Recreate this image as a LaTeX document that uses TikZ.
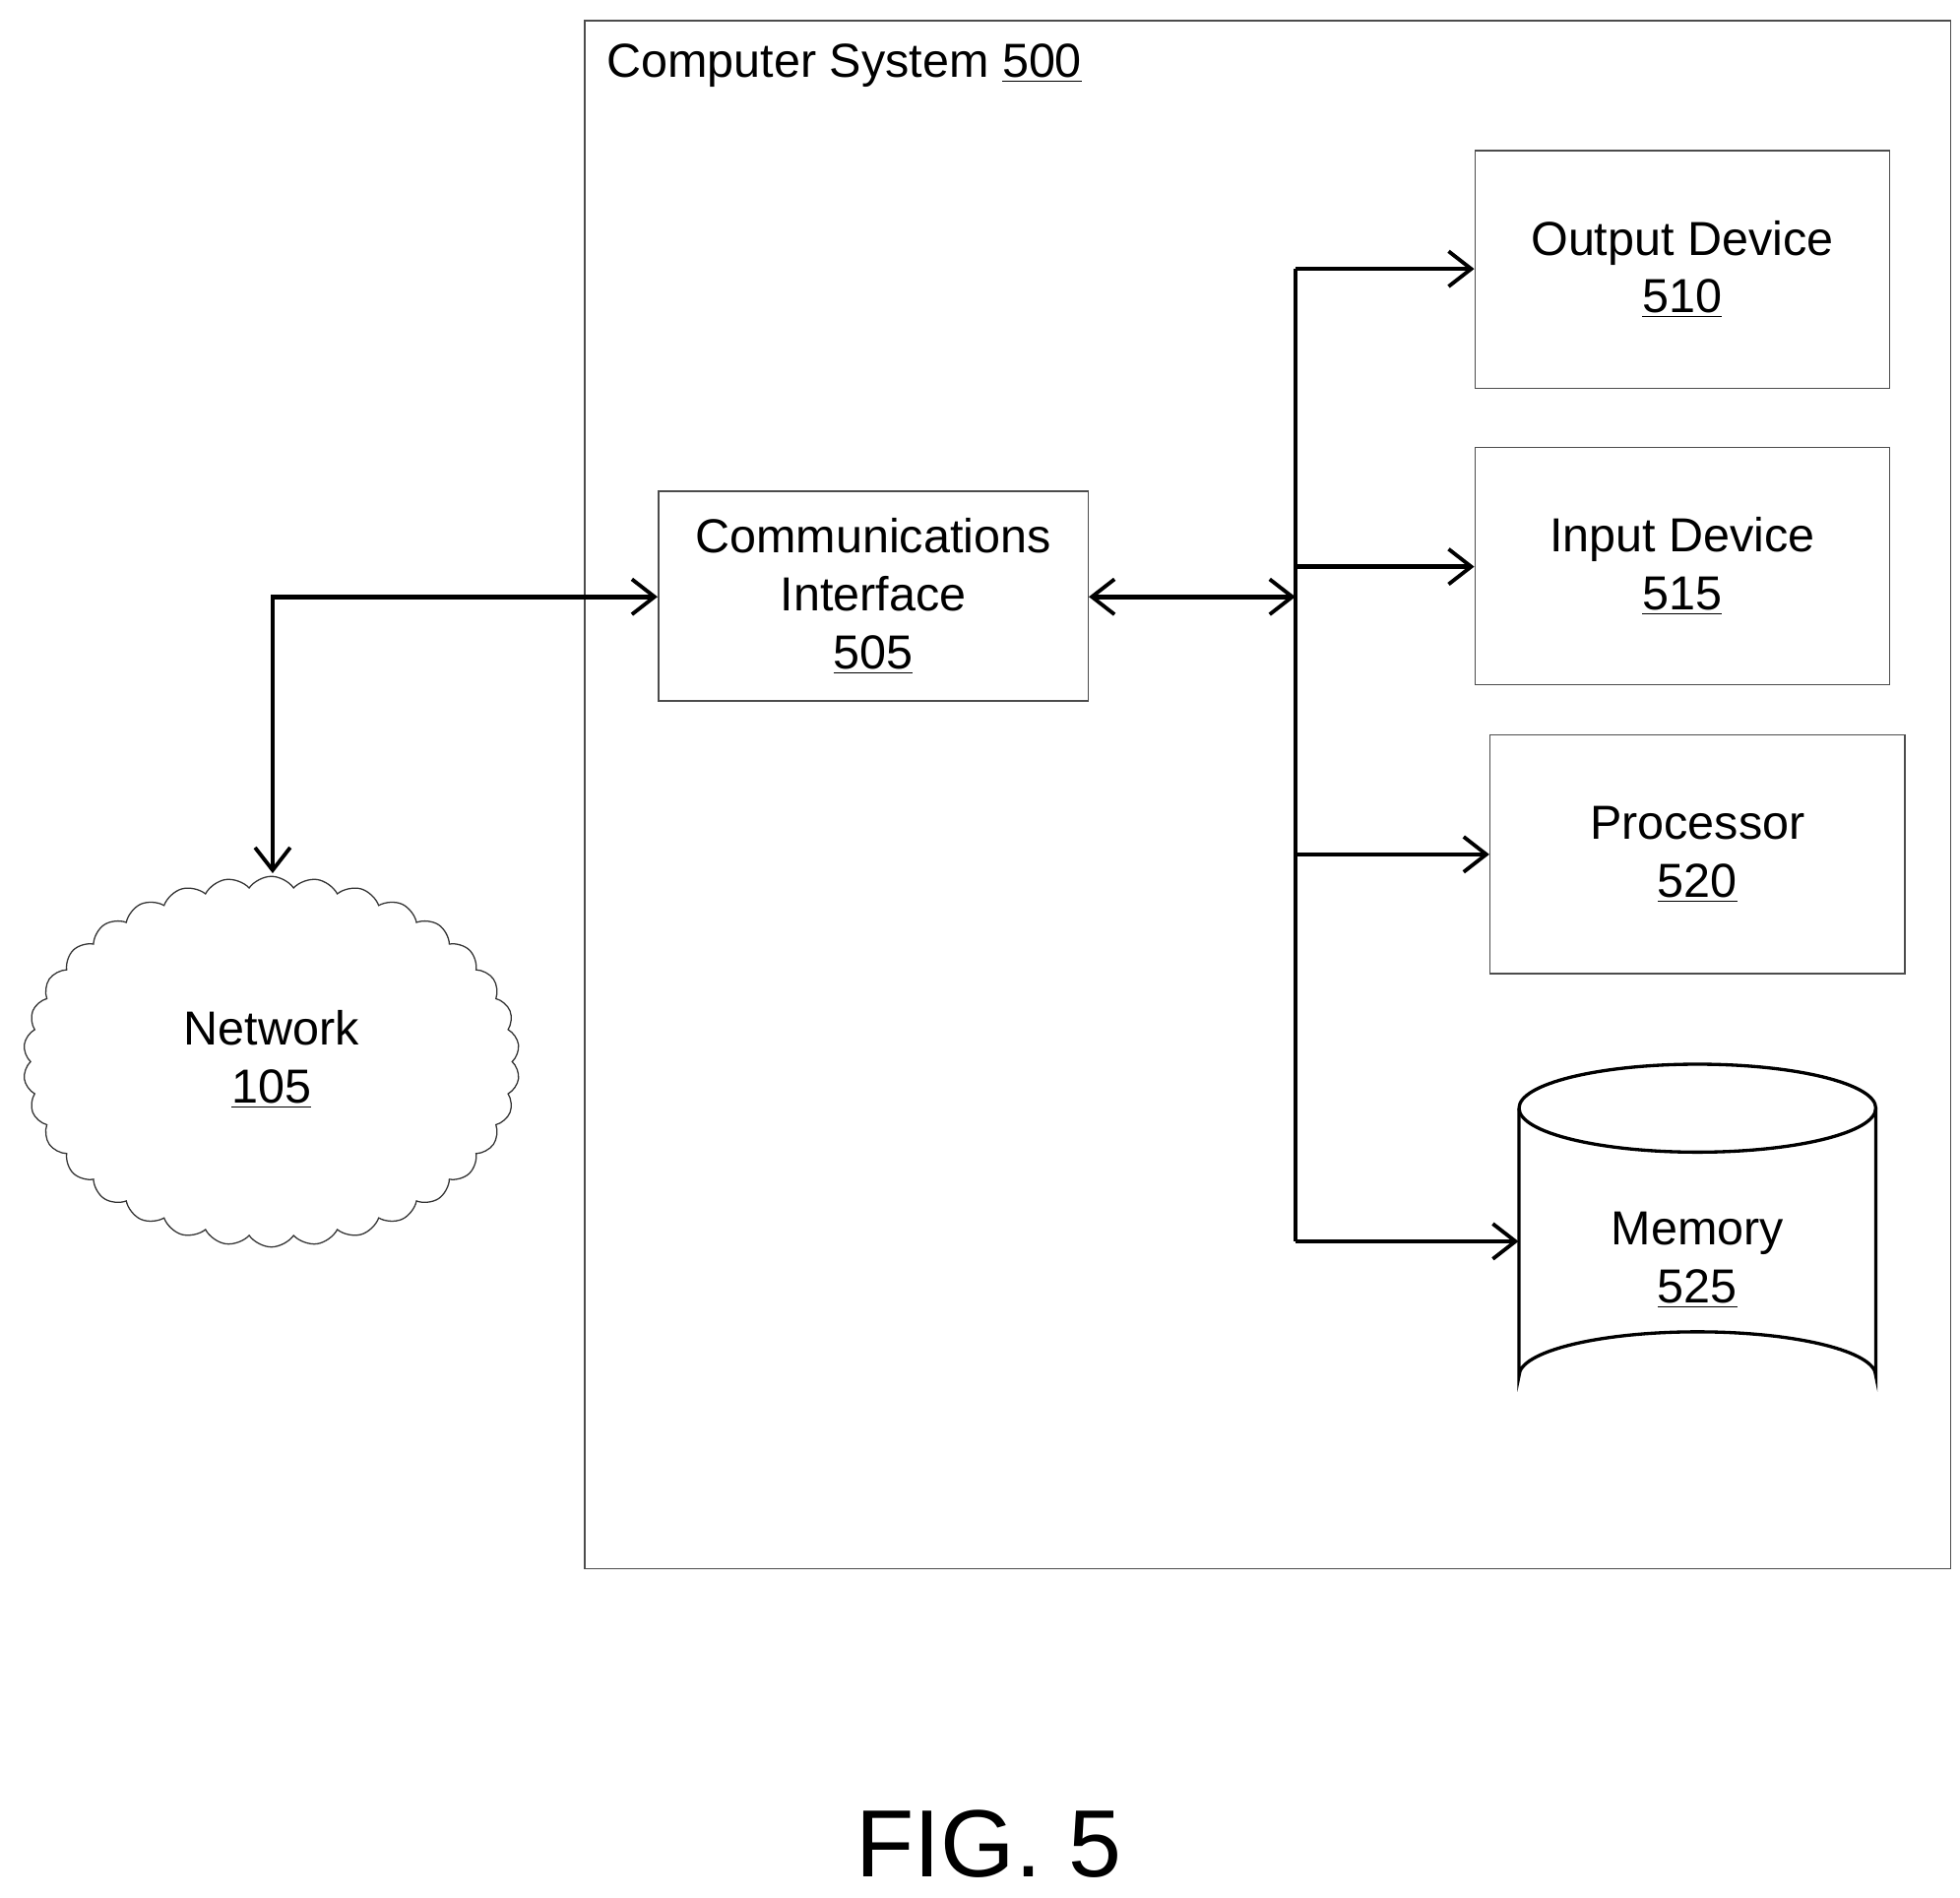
\documentclass[tikz,border=0pt]{standalone}
\usepackage{fontspec}
\setmainfont{Liberation Sans}
\usetikzlibrary{arrows.meta,shapes.symbols,shapes.geometric}
\begin{document}
\begin{tikzpicture}[x=0.5pt,y=-0.5pt,
  box/.style={draw=black!70,line width=0.6pt,inner sep=0pt,font=\fontsize{19}{23}\selectfont,align=center},
  conn/.style={line width=1.8pt,-{Straight Barb[length=9pt,width=14pt,line width=1.5pt]}},
  lbl/.style={font=\fontsize{19}{23}\selectfont,align=center}]
\useasboundingbox (0,0) rectangle (1560,1510);
\node[box,anchor=north west,minimum width=1087*0.5pt,minimum height=1232*0.5pt] (sys) at (465,16) {};
\node[lbl,anchor=west] (title) at (476,52) {Computer System \underline{500}};
\node[box,minimum width=342*0.5pt,minimum height=167*0.5pt] (ci) at (695,474.5) {Communications\\Interface\\\underline{505}};
\node[box,minimum width=330*0.5pt,minimum height=189*0.5pt] (out) at (1339,214.5) {Output Device\\\underline{510}};
\node[box,minimum width=330*0.5pt,minimum height=189*0.5pt] (in) at (1339,450.5) {Input Device\\\underline{515}};
\node[box,minimum width=330*0.5pt,minimum height=190*0.5pt] (proc) at (1351,680) {Processor\\\underline{520}};
\node[inner sep=0pt,minimum width=284*0.5pt,minimum height=283*0.5pt] (mem) at (1351,988.5) {};
\draw[line width=1.3pt] (1209,882) arc[start angle=180,end angle=-180,x radius=142,y radius=35];
\draw[line width=1.3pt] (1209,882) -- (1209,1095) arc[start angle=180,end angle=360,x radius=142,y radius=35] -- (1493,882);
\node[lbl] (memt) at (1351,1003) {Memory\\\underline{525}};
\node[cloud,draw=black!80,line width=0.5pt,cloud puffs=34,cloud puff arc=110,aspect=1.35,minimum width=395*0.5pt,minimum height=295*0.5pt,inner sep=0pt] (net) at (216,845) {};
\node[lbl] (nett) at (216,843) {Network\\\underline{105}};
\node[font=\fontsize{38}{46}\selectfont] (fig) at (787,1468) {FIG. 5};
\coordinate (btop) at (1031,214);
\coordinate (bbot) at (1031,988);
\coordinate (bmid) at (1031,475);
\coordinate (corner) at (217,475);
\draw[line width=1.8pt] (btop) -- (bbot);
\draw[conn] (btop) -- (out.west |- btop);
\draw[conn] (1031,451) -- (in.west |- 0,451);
\draw[conn] (1031,680) -- (proc.west |- 0,680);
\draw[conn] (bbot) -- (mem.west |- bbot);
\draw[conn,{Straight Barb[length=9pt,width=14pt,line width=1.5pt]}-{Straight Barb[length=9pt,width=14pt,line width=1.5pt]}] (ci.east |- bmid) -- (bmid);
\draw[conn,{Straight Barb[length=9pt,width=14pt,line width=1.5pt]}-{Straight Barb[length=9pt,width=14pt,line width=1.5pt]}] (217,695) -- (corner) -- (ci.west |- corner);
\end{tikzpicture}
\end{document}
